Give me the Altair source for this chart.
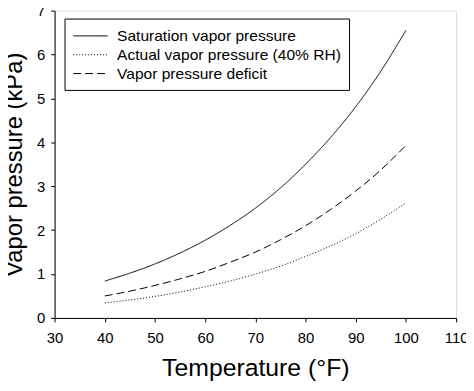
import altair as alt
import pandas as pd

temps = [40, 45, 50, 55, 60, 65, 70, 75, 80, 85, 90, 95, 100]
svp = [0.84, 1.02, 1.23, 1.48, 1.77, 2.11, 2.50, 2.96, 3.50, 4.11, 4.81, 5.62, 6.55]
actual = [0.34, 0.41, 0.49, 0.59, 0.71, 0.84, 1.00, 1.18, 1.40, 1.64, 1.92, 2.25, 2.62]
deficit = [0.50, 0.61, 0.74, 0.89, 1.06, 1.27, 1.50, 1.78, 2.10, 2.47, 2.89, 3.37, 3.93]
series = ["Saturation vapor pressure", "Actual vapor pressure (40% RH)", "Vapor pressure deficit"]
x_ticks = [30, 40, 50, 60, 70, 80, 90, 100, 110]
y_ticks = [0, 1, 2, 3, 4, 5, 6, 7]

rows = []
for name, vals in zip(series, [svp, actual, deficit]):
    for t, v in zip(temps, vals):
        rows.append({"temp": t, "vp": v, "series": name})
df = pd.DataFrame(rows)

FONT = "Liberation Sans"

chart = alt.Chart(df).mark_line(color="black", strokeWidth=1, interpolate="monotone").encode(
    x=alt.X("temp:Q", title="Temperature (°F)",
            scale=alt.Scale(domain=[30, 110], nice=False, zero=False),
            axis=alt.Axis(values=x_ticks, grid=False, titleFontSize=25, titleFont=FONT,
                          titleFontWeight="normal", labelFont=FONT, labelFontSize=15,
                          labelColor="black", titleColor="black", domainColor="black",
                          tickColor="black", tickSize=4, labelPadding=9, titlePadding=10,
                          labelFlush=False)),
    y=alt.Y("vp:Q", title="Vapor pressure (kPa)",
            scale=alt.Scale(domain=[0, 7], nice=False),
            axis=alt.Axis(values=y_ticks, grid=False, titleFontSize=24, titleFont=FONT,
                          titleFontWeight="normal", labelFont=FONT, labelFontSize=15,
                          labelColor="black", titleColor="black", domainColor="black",
                          tickColor="black", tickSize=4, labelPadding=6, titlePadding=10,
                          labelFlush=False)),
    strokeDash=alt.StrokeDash("series:N",
        scale=alt.Scale(domain=series, range=[[1, 0], [1, 2], [8, 4]]),
        legend=alt.Legend(title=None, orient="none", legendX=10, legendY=8,
                          symbolType="M-1,0H3", symbolSize=300, symbolStrokeWidth=1,
                          symbolStrokeColor="black", labelLimit=400,
                          labelFont=FONT, labelFontSize=15.7, labelColor="black",
                          strokeColor="black", padding=8, rowPadding=1,
                          labelOffset=26, fillColor="white")),
    detail="series:N",
).properties(
    width=405, height=310,
    padding={"left": 47, "top": 1, "right": 10, "bottom": 64},
    autosize=alt.AutoSizeParams(type="none"),
).configure_view(stroke="black", strokeWidth=1).configure(background="white")

chart.save("out.html", embed_options={"renderer": "svg", "actions": False})
